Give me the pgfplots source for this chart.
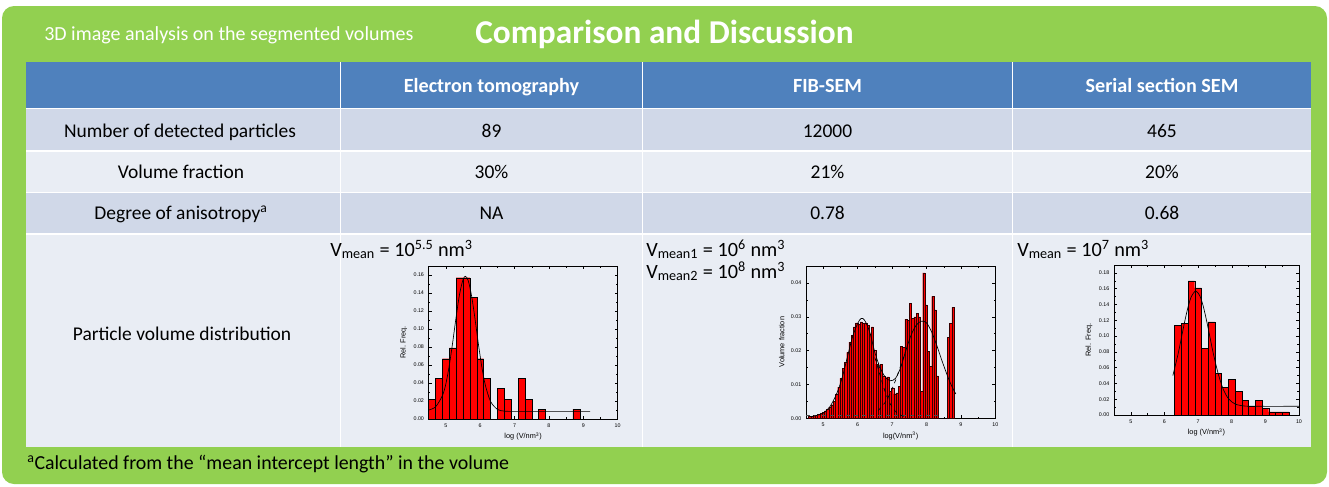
\documentclass[border=0pt]{standalone}
\usepackage{fontspec}
\setmainfont{Carlito}
\newfontfamily\arialfont{Liberation Sans}
\usepackage{pgfplots}
\pgfplotsset{compat=1.18}
\definecolor{boxgreen}{HTML}{92D050}
\definecolor{hdrblue}{HTML}{4F81BD}
\definecolor{rowdark}{HTML}{D0D8E8}
\definecolor{rowlight}{HTML}{E9EDF4}
\newcommand\tfs{\fontsize{14.6}{17}\selectfont}
\newcommand\hfs{\fontsize{15.1}{17}\selectfont}
\newcommand\vfs{\fontsize{15.2}{17}\selectfont}
\newcommand\tickfont{\arialfont\fontsize{4}{4.5}\selectfont}
\newcommand\labfont{\arialfont\fontsize{5.5}{6}\selectfont}
\pgfplotsset{histo/.style={
  scale only axis, anchor=north west,
  xmin=4.5, xmax=10, ymin=0, xtick={5,6,7,8,9,10},
  minor x tick num=1, minor y tick num=1,
  tick align=inside, major tick length=2.2pt, minor tick length=1.3pt,
  every tick/.style={black, line width=0.3pt},
  axis line style={black, line width=0.5pt},
  tick label style={font=\tickfont},
  label style={font=\labfont},
  scaled y ticks=false,
  /pgf/number format/assume math mode=true,
  yticklabel style={/pgf/number format/fixed, /pgf/number format/fixed zerofill, /pgf/number format/precision=2},
  ylabel style={yshift=-2pt},
  xlabel style={yshift=3pt},
  clip=false,
}}
\begin{document}
\begin{tikzpicture}
\begin{scope}[x=0.75pt,y=-0.75pt]
\useasboundingbox (0,0) rectangle (1329,486);
\fill[white] (0,0) rectangle (1329,486);
\fill[boxgreen, rounded corners=9pt] (2,6) rectangle (1327,484);
% table
\fill[hdrblue] (26,62) rectangle (1311,108.5);
\fill[rowdark] (26,108.5) rectangle (1311,151);
\fill[rowlight] (26,151) rectangle (1311,192.5);
\fill[rowdark] (26,192.5) rectangle (1311,234);
\fill[rowlight] (26,234) rectangle (1311,447);
\foreach \yy in {108.5,151,192.5,234} \draw[white, line width=1.1pt] (26,\yy) -- (1311,\yy);
\foreach \xx in {340.5,642.5,1012.5} \draw[white, line width=1.1pt] (\xx,62) -- (\xx,447);
% titles
\node[anchor=base west, text=white, inner sep=0, font=\fontsize{15}{17}\selectfont] at (44,40.5) {3D image analysis on the segmented volumes};
\node[anchor=base west, text=white, inner sep=0, font=\fontsize{25}{30}\selectfont\bfseries] at (475,43.5) {Comparison and Discussion};
% header
\node[anchor=base, text=white, inner sep=0, font=\hfs\bfseries] at (491.5,92) {Electron tomography};
\node[anchor=base, text=white, inner sep=0, font=\hfs\bfseries] at (827.5,92) {FIB-SEM};
\node[anchor=base, text=white, inner sep=0, font=\hfs\bfseries] at (1162,92) {Serial section SEM};
% rows
\node[anchor=base, inner sep=0, font=\tfs] at (180,137.5) {Number of detected particles};
\node[anchor=base, inner sep=0, font=\tfs] at (491.5,137.5) {89};
\node[anchor=base, inner sep=0, font=\tfs] at (827.5,137.5) {12000};
\node[anchor=base, inner sep=0, font=\tfs] at (1162,137.5) {465};
\node[anchor=base, inner sep=0, font=\tfs] at (181,178.5) {Volume fraction};
\node[anchor=base, inner sep=0, font=\tfs] at (491.5,178.5) {30\%};
\node[anchor=base, inner sep=0, font=\tfs] at (827.5,178.5) {21\%};
\node[anchor=base, inner sep=0, font=\tfs] at (1162,178.5) {20\%};
\node[anchor=base, inner sep=0, font=\tfs] at (181,219.5) {Degree of anisotropy\textsuperscript{a}};
\node[anchor=base, inner sep=0, font=\tfs] at (491.5,219.5) {NA};
\node[anchor=base, inner sep=0, font=\tfs] at (827.5,219.5) {0.78};
\node[anchor=base, inner sep=0, font=\tfs] at (1162,219.5) {0.68};
\node[anchor=base, inner sep=0, font=\tfs] at (182,340) {Particle volume distribution};
\node[anchor=base west, inner sep=0, font=\vfs] at (330,256) {V\textsubscript{mean} = 10\textsuperscript{5.5} nm\textsuperscript{3}};
\node[anchor=base west, inner sep=0, font=\vfs] at (646,256) {V\textsubscript{mean1} = 10\textsuperscript{6} nm\textsuperscript{3}};
\node[anchor=base west, inner sep=0, font=\vfs] at (646,278) {V\textsubscript{mean2} = 10\textsuperscript{8} nm\textsuperscript{3}};
\node[anchor=base west, inner sep=0, font=\vfs] at (1017,256) {V\textsubscript{mean} = 10\textsuperscript{7} nm\textsuperscript{3}};
\node[anchor=base west, inner sep=0, font=\fontsize{14.9}{17}\selectfont] at (27,469) {\textsuperscript{a}Calculated from the “mean intercept length” in the volume};
\end{scope}

% ---- Electron tomography
\begin{axis}[histo, at={(321.5pt,-199.5pt)}, width=141.75pt, height=114.75pt,
  ymax=0.17, ytick={0,0.02,0.04,0.06,0.08,0.10,0.12,0.14,0.16},
  xlabel={log (V/nm\textsuperscript{3})}, ylabel={Rel. Freq.}]
\addplot[ybar, bar width=0.2, fill=red, draw=black, line width=0.3pt] coordinates {
(4.6,0.022)(4.8,0.045)(5.0,0.067)(5.2,0.079)(5.4,0.157)(5.6,0.157)(5.8,0.135)(6.0,0.067)(6.2,0.045)
(6.6,0.034)(6.8,0.022)(7.2,0.045)(7.4,0.022)(7.8,0.011)(8.8,0.011)};
\addplot[black, line width=0.5pt, smooth] coordinates {
(4.5,0.010)(4.7,0.0135)(4.9,0.026)(5.0,0.039)(5.1,0.0595)(5.2,0.0854)(5.3,0.1136)(5.4,0.1388)(5.5,0.1550)(5.57,0.1585)(5.65,0.1539)(5.75,0.1365)(5.85,0.1108)(5.95,0.0826)(6.05,0.0572)(6.15,0.0375)(6.3,0.0196)(6.5,0.0107)(6.7,0.0088)(7.0,0.0085)(9.2,0.0085)};
\end{axis}

% ---- FIB-SEM
\begin{axis}[histo, at={(604.5pt,-199.5pt)}, width=142pt, height=114.2pt,
  ymax=0.045, ytick={0,0.01,0.02,0.03,0.04},
  xlabel={log(V/nm\textsuperscript{3})}, ylabel={Volume fraction}]
\addplot[ybar, bar width=0.065, fill=red, draw=black!80!red, line width=0.2pt] coordinates {
(4.608,0.0005)(4.673,0.0006)(4.738,0.0008)(4.803,0.0009)(4.868,0.0011)(4.933,0.0014)(4.998,0.0018)(5.063,0.0022)
(5.128,0.0026)(5.193,0.0032)(5.258,0.0040)(5.323,0.0050)(5.388,0.0070)(5.453,0.0092)(5.518,0.0118)(5.583,0.0148)
(5.648,0.0165)(5.713,0.0195)(5.778,0.0225)(5.843,0.0245)(5.908,0.0270)(5.973,0.0282)(6.038,0.0278)(6.103,0.0285)
(6.168,0.0280)(6.233,0.0282)(6.298,0.0275)(6.363,0.0250)(6.428,0.0270)(6.493,0.0200)(6.558,0.0160)(6.623,0.0150)
(6.688,0.0160)(6.753,0.0125)(6.818,0.0120)(6.883,0.0122)(6.948,0.0080)(7.013,0.0090)(7.078,0.0072)(7.143,0.0075)
(7.208,0.0095)(7.273,0.0212)(7.338,0.0210)(7.403,0.0293)(7.468,0.0289)(7.533,0.0340)(7.598,0.0295)(7.663,0.0300)
(7.728,0.0310)(7.793,0.0300)(7.858,0.0080)(7.923,0.0430)(7.988,0.0335)(8.053,0.0197)(8.118,0.0153)(8.183,0.0360)
(8.248,0.0320)(8.313,0.0125)(8.638,0.0240)(8.703,0.0280)(8.768,0.0328)};
\addplot[black!70, dashed, line width=0.4pt] coordinates {(4.5,0.0009)(8.45,0.0009)};
\addplot[black, line width=0.5pt, smooth] coordinates {
(4.6,0.0004)(4.8,0.0008)(5.0,0.0015)(5.2,0.0035)(5.4,0.0075)(5.55,0.0120)(5.7,0.0180)(5.85,0.0240)(6.0,0.0280)
(6.1,0.0295)(6.2,0.0290)(6.35,0.0255)(6.5,0.0195)(6.65,0.0150)(6.8,0.0122)(6.95,0.0111)(7.1,0.0118)(7.25,0.0150)
(7.4,0.0200)(7.55,0.0245)(7.7,0.0275)(7.85,0.0287)(8.0,0.0282)(8.15,0.0255)(8.3,0.0215)(8.45,0.0170)(8.6,0.0128)
(8.72,0.0098)(8.85,0.0072)};
\addplot[black, dashed, line width=0.5pt, smooth] coordinates {
(6.5,0.0180)(6.65,0.0128)(6.8,0.0078)(6.95,0.0042)(7.1,0.0020)(7.25,0.0009)(7.4,0.0004)};
\addplot[black, dashed, line width=0.5pt, smooth] coordinates {
(6.6,0.0023)(6.8,0.0047)(6.95,0.0075)(7.1,0.0112)(7.25,0.0155)(7.4,0.0200)};
\end{axis}

% ---- Serial section SEM
\begin{axis}[histo, at={(835.5pt,-198.75pt)}, width=138.75pt, height=112.5pt,
  ymax=0.19, ytick={0,0.02,0.04,0.06,0.08,0.10,0.12,0.14,0.16,0.18},
  xlabel={log (V/nm\textsuperscript{3})}, ylabel={Rel. Freq.}]
\addplot[ybar, bar width=0.2, fill=red, draw=black, line width=0.3pt] coordinates {
(6.4,0.114)(6.6,0.116)(6.8,0.170)(7.0,0.161)(7.2,0.084)(7.4,0.118)(7.6,0.053)(7.8,0.035)(8.0,0.045)
(8.2,0.030)(8.4,0.019)(8.6,0.011)(8.8,0.019)(9.0,0.0085)(9.2,0.004)(9.4,0.004)(9.6,0.004)};
\addplot[black, line width=0.5pt, smooth] coordinates {
(6.25,0.050)(6.4,0.0764)(6.5,0.0971)(6.6,0.118)(6.7,0.1365)(6.8,0.1501)(6.93,0.157)(7.05,0.1511)(7.15,0.1382)
(7.25,0.120)(7.35,0.0992)(7.45,0.0784)(7.6,0.052)(7.75,0.0324)(7.9,0.0209)(8.1,0.0139)(8.4,0.0113)(8.8,0.011)(10,0.011)};
\end{axis}
\end{tikzpicture}
\end{document}
